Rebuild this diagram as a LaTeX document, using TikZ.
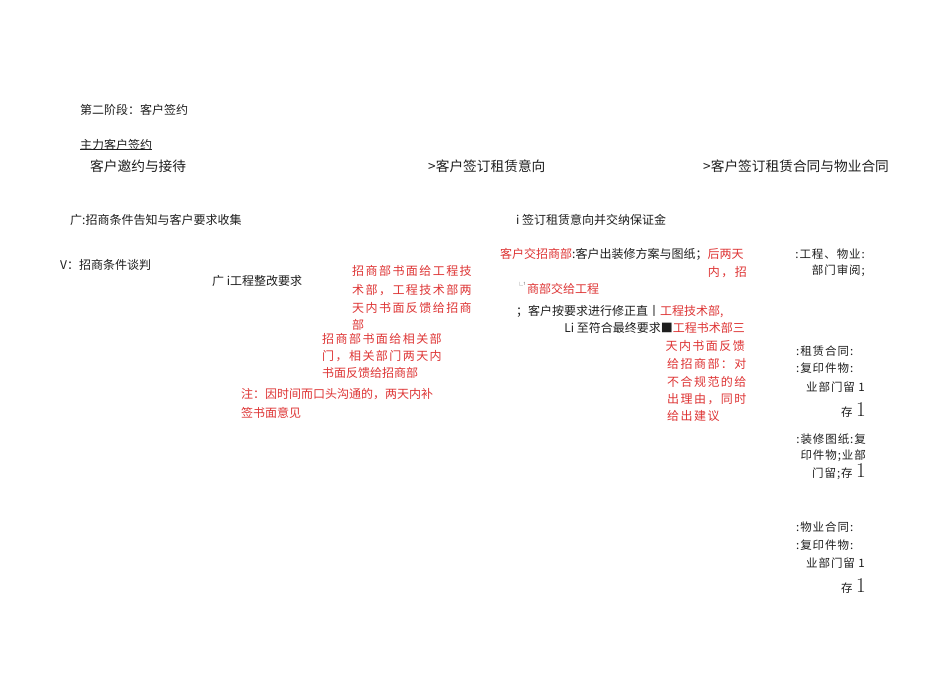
\documentclass[tikz,border=0pt]{standalone}
\usepackage{fontspec}
\newfontfamily\cjk{Noto Sans CJK SC}
\newfontfamily\cjksp[LetterSpace=12]{Noto Sans CJK SC}
\newfontfamily\cjkr[LetterSpace=8]{Noto Sans CJK SC}
\definecolor{redtxt}{RGB}{222,52,52}
\definecolor{blk}{RGB}{30,30,30}
\newcommand\bigone{{\fontspec{Latin Modern Roman}\fontsize{21}{21}\selectfont 1}}
\begin{document}
\begin{tikzpicture}[x=1pt,y=-1pt,
  lbl/.style={inner sep=0pt, anchor=west, text=blk, font=\cjk\fontsize{12}{14}\selectfont},
  sml/.style={lbl, font=\cjkr\fontsize{11.5}{14}\selectfont},
  head/.style={lbl, font=\cjk\fontsize{13.7}{16}\selectfont},
  rd/.style={lbl, text=redtxt, font=\cjksp\fontsize{12}{14}\selectfont},
  rn/.style={lbl, text=redtxt},
  rgt/.style={sml, anchor=east}]
\fill[white] (0,0) rectangle (950,672);
\useasboundingbox (0,0) rectangle (950,672);

% left headings
\node[lbl] (stage) at (80,110) {第二阶段：客户签约};
\node[lbl] (main) at (80,145) {主力客户签约};
\draw[blk, line width=0.5pt] ([yshift=1.5pt]main.south west) -- ([yshift=1.5pt]main.south east);
\node[head] (h1) at (90,166) {客户邀约与接待};
\node[head] (h2) at (428,166) {>客户签订租赁意向};
\node[head] (h3) at (703,166) {>客户签订租赁合同与物业合同};

% left column
\node[lbl] (a1) at (70,220) {广:招商条件告知与客户要求收集};
\node[lbl] (a2) at (60,265) {V：招商条件谈判};
\node[lbl] (a3) at (212,281) {广 i工程整改要求};

\node[rd] (r1) at (352,271) {招商部书面给工程技};
\node[rd] (r2) at (352,290) {术部，工程技术部两};
\node[rd] (r3) at (352,308) {天内书面反馈给招商};
\node[rd] (r4) at (352,325) {部};
\node[rd] (r5) at (322,339) {招商部书面给相关部};
\node[rd] (r6) at (322,356) {门，相关部门两天内};
\node[rn] (r7) at (322,373) {书面反馈给招商部};
\node[rn] (r8) at (241,394) {注：因时间而口头沟通的，两天内补};
\node[rn] (r9) at (241,413) {签书面意见};

% middle column
\node[lbl] (b1) at (516,220) {i 签订租赁意向并交纳保证金};
\node[lbl] (b2) at (500,254) {\textcolor{redtxt}{客户交招商部}:客户出装修方案与图纸；\textcolor{redtxt}{后两天}};
\node[rd, anchor=east] (b3) at (747,272) {内，招};
\node[lbl, text=gray, font=\cjk\fontsize{7}{8}\selectfont] (b4) at (516,285) {└¹};
\node[rn] (b5) at (527,289) {商部交给工程};
\node[lbl] (b6) at (516,312) {；客户按要求进行修正直丨\textcolor{redtxt}{工程技术部,}};
\node[lbl, anchor=east] (b7) at (745,328) {Li 至符合最终要求■\textcolor{redtxt}{工程书术部三}};
\node[rd, anchor=east] (c1) at (745,346) {天内书面反馈};
\node[rd] (c2) at (667,364) {给招商部：对};
\node[rd] (c3) at (667,382) {不合规范的给};
\node[rd] (c4) at (667,399) {出理由，同时};
\node[rd] (c5) at (667,416) {给出建议};

% right column
\node[rgt] (d1) at (865,254) {:工程、物业:};
\node[rgt] (d2) at (865,271) {部门审阅;};
\node[sml] (d3) at (796,351) {:租赁合同:};
\node[sml] (d4) at (796,368) {:复印件物:};
\node[rgt] (d5) at (865,387) {业部门留 1};
\node[rgt] (d6) at (866,410) {存 \bigone};
\node[rgt] (e1) at (866,439) {:装修图纸:复};
\node[rgt] (e2) at (866,456) {印件物;业部};
\node[rgt] (e3) at (866,472) {门留;存 \bigone};
\node[sml] (f1) at (796,527) {:物业合同:};
\node[sml] (f2) at (796,545) {:复印件物:};
\node[rgt] (f3) at (865,563) {业部门留 1};
\node[rgt] (f4) at (866,586) {存 \bigone};
\end{tikzpicture}
\end{document}
